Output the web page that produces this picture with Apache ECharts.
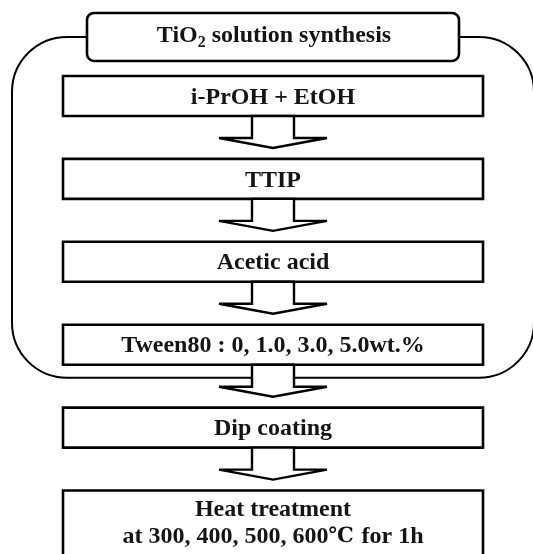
<!DOCTYPE html>
<html>
<head>
<meta charset="utf-8">
<script src="https://cdn.jsdelivr.net/npm/echarts@6/dist/echarts.min.js"></script>
<style>
html,body{margin:0;padding:0;background:#fff;}
#chart{width:533px;height:554px;}
</style>
</head>
<body>
<div id="chart"></div>
<script>
// ---- data ----
const steps = [
  'i-PrOH + EtOH',
  'TTIP',
  'Acetic acid',
  'Tween80 : 0, 1.0, 3.0, 5.0wt.%',
  'Dip coating',
  'Heat treatment\nat 300, 400, 500, 600\u2103 for 1h'
];
const groupTitleParts = ['TiO', '2', ' solution synthesis']; // "2" is a subscript
const groupSpan = [0, 3]; // first and last step inside the TiO2 solution synthesis group

// ---- style ----
const FONT = '"Liberation Serif", "Times New Roman", serif';
const SYMFONT = '"DejaVu Serif", "Liberation Serif", serif';
const INK = '#000';
const TXT = '#141414';

const chart = echarts.init(document.getElementById('chart'), null, {renderer: 'canvas'});

function richLine(t) {
  // render the degree-Celsius sign in a serif font that has the glyph
  const parts = t.split('\u2103');
  let out = '';
  parts.forEach((p, k) => {
    if (p) out += '{a|' + p + '}';
    if (k < parts.length - 1) out += '{d|\u2103}';
  });
  return out;
}
const RICH = {
  a: {fontFamily: FONT, fontWeight: 'bold', fontSize: 24, lineHeight: 28, fill: TXT},
  d: {fontFamily: SYMFONT, fontWeight: 'bold', fontSize: 21, lineHeight: 28, fill: TXT, padding: [0, 2, 0, 0]}
};

function renderStep(params, api) {
  const i = api.value(1);
  const c = api.coord([0, i]);
  const n = steps.length;
  const halfW = 210;
  const boxH = (i === n - 1) ? 90 : 40;
  const top = c[1] - 20;
  const children = [];
  children.push({
    type: 'rect',
    shape: {x: c[0] - halfW, y: top, width: halfW * 2, height: boxH},
    style: {fill: '#fff', stroke: INK, lineWidth: 2.6}
  });
  if (i === n - 1) {
    const lines = steps[i].split('\n');
    lines.forEach((t, k) => {
      children.push({
        type: 'text',
        style: {text: richLine(t), rich: RICH, x: c[0], y: top + 19 + k * 27, align: 'center', verticalAlign: 'middle'}
      });
    });
  } else {
    children.push({
      type: 'text',
      style: {text: steps[i], x: c[0], y: c[1] + 1.5, align: 'center', verticalAlign: 'middle',
              font: 'bold 24px ' + FONT, fill: TXT}
    });
  }
  if (i < n - 1) {
    const y0 = top + boxH;
    const yh = y0 + 22;
    const tip = yh + 10;
    const sw = 21, hw = 54;
    children.push({
      type: 'polygon',
      shape: {points: [
        [c[0] - sw, y0], [c[0] - sw, yh], [c[0] - hw, yh], [c[0], tip],
        [c[0] + hw, yh], [c[0] + sw, yh], [c[0] + sw, y0]
      ]},
      style: {fill: '#fff', stroke: INK, lineWidth: 2.4, lineJoin: 'miter'}
    });
  }
  return {type: 'group', children: children};
}

function renderGroup(params, api) {
  const s = api.value(1), e = api.value(2);
  const c0 = api.coord([0, s]);
  const c1 = api.coord([0, e]);
  const top0 = c0[1] - 20;
  const titleCy = top0 - 39;
  const bottom = c1[1] + 20 + 13;
  const cx = c0[0];
  return {
    type: 'group',
    children: [
      {
        type: 'rect',
        shape: {x: cx - 261, y: titleCy, width: 522, height: bottom - titleCy, r: 55},
        style: {fill: null, stroke: INK, lineWidth: 2}
      },
      {
        type: 'rect',
        shape: {x: cx - 186, y: titleCy - 24, width: 372, height: 48, r: 7},
        style: {fill: '#fff', stroke: INK, lineWidth: 2.6}
      },
      {
        type: 'text',
        style: {
          text: '{a|' + groupTitleParts[0] + '}{s|' + groupTitleParts[1] + '}{a|' + groupTitleParts[2] + '}',
          x: cx + 1, y: titleCy - 1, align: 'center', verticalAlign: 'middle',
          rich: {
            a: {fontFamily: FONT, fontWeight: 'bold', fontSize: 24, lineHeight: 30, fill: TXT, verticalAlign: 'middle'},
            s: {fontFamily: FONT, fontWeight: 'bold', fontSize: 16, lineHeight: 16, fill: TXT, verticalAlign: 'bottom'}
          }
        }
      }
    ]
  };
}

chart.setOption({
  backgroundColor: '#fff',
  animation: false,
  grid: {left: 13, right: 0, top: 54.5, bottom: 2},
  xAxis: {type: 'value', min: -1, max: 1, show: false},
  yAxis: {type: 'category', data: steps, inverse: true, show: false},
  series: [
    {
      type: 'custom',
      name: 'group',
      coordinateSystem: 'cartesian2d',
      encode: {x: 0, y: 1},
      data: [[0, groupSpan[0], groupSpan[1]]],
      renderItem: renderGroup,
      z: 1,
      silent: true
    },
    {
      type: 'custom',
      name: 'steps',
      coordinateSystem: 'cartesian2d',
      encode: {x: 0, y: 1},
      data: steps.map((s, i) => [0, i]),
      renderItem: renderStep,
      z: 2,
      silent: true
    }
  ]
});
</script>
</body>
</html>
